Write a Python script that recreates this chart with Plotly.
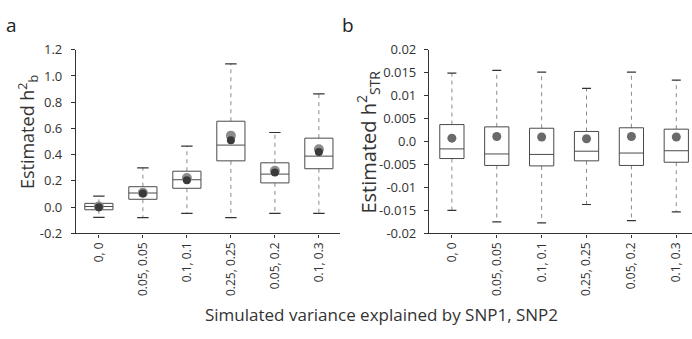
import plotly.graph_objects as go

categories = ["0, 0", "0.05, 0.05", "0.1, 0.1", "0.25, 0.25", "0.05, 0.2", "0.1, 0.3"]

# Panel a: estimated h2_b
a_lower = [-0.077, -0.080, -0.048, -0.079, -0.048, -0.048]
a_q1 = [-0.020, 0.060, 0.144, 0.353, 0.185, 0.293]
a_median = [0.005, 0.108, 0.209, 0.473, 0.252, 0.389]
a_q3 = [0.029, 0.156, 0.274, 0.655, 0.338, 0.526]
a_upper = [0.084, 0.300, 0.466, 1.092, 0.569, 0.864]
a_mean_est = [0.005, 0.110, 0.222, 0.545, 0.278, 0.442]
a_mean_true = [0.000, 0.105, 0.205, 0.510, 0.265, 0.420]

# Panel b: estimated h2_STR
b_lower = [-0.0150, -0.0175, -0.0177, -0.0137, -0.0172, -0.0153]
b_q1 = [-0.0037, -0.0052, -0.0053, -0.0042, -0.0052, -0.0045]
b_median = [-0.0016, -0.0027, -0.0028, -0.0021, -0.0025, -0.0020]
b_q3 = [0.0037, 0.0032, 0.0029, 0.0022, 0.0030, 0.0027]
b_upper = [0.0149, 0.0155, 0.0151, 0.0116, 0.0151, 0.0134]
b_mean = [0.00075, 0.0011, 0.0010, 0.0006, 0.0011, 0.0010]

a_ticks = [-0.2, 0.0, 0.2, 0.4, 0.6, 0.8, 1.0, 1.2]
a_ticktext = ["-0.2", "0.0", "0.2", "0.4", "0.6", "0.8", "1.0", "1.2"]
b_ticks = [-0.02, -0.015, -0.01, -0.005, 0.0, 0.005, 0.01, 0.015, 0.02]
b_ticktext = ["-0.02", "-0.015", "-0.01", "-0.005", "0.0", "0.005", "0.01", "0.015", "0.02"]

FONT = "Open Sans"
BOXC = "#4a4a4a"
WHC = "#8a8a8a"

fig = go.Figure()


def add_boxes(xa, ya, lower, q1, med, q3, upper, hw, cw):
    bx, by, wx, wy, cx, cy = [], [], [], [], [], []
    for i in range(len(categories)):
        bx += [i - hw, i + hw, i + hw, i - hw, i - hw, None, i - hw, i + hw, None]
        by += [q1[i], q1[i], q3[i], q3[i], q1[i], None, med[i], med[i], None]
        wx += [i, i, None, i, i, None]
        wy += [q3[i], upper[i], None, q1[i], lower[i], None]
        cx += [i - cw, i + cw, None, i - cw, i + cw, None]
        cy += [upper[i], upper[i], None, lower[i], lower[i], None]
    fig.add_trace(go.Scatter(x=wx, y=wy, mode="lines", xaxis=xa, yaxis=ya,
                             line=dict(color=WHC, width=1, dash="4px,4px"),
                             showlegend=False, hoverinfo="skip"))
    fig.add_trace(go.Scatter(x=cx, y=cy, mode="lines", xaxis=xa, yaxis=ya,
                             line=dict(color="#333", width=1.2),
                             showlegend=False, hoverinfo="skip"))
    fig.add_trace(go.Scatter(x=bx, y=by, mode="lines", xaxis=xa, yaxis=ya,
                             line=dict(color=BOXC, width=1),
                             showlegend=False, hoverinfo="skip"))


idx = list(range(len(categories)))

add_boxes("x", "y", a_lower, a_q1, a_median, a_q3, a_upper, 0.32, 0.13)
fig.add_trace(go.Scatter(x=idx, y=a_mean_est, mode="markers", xaxis="x", yaxis="y",
                         marker=dict(color="#8c8c8c", size=10), showlegend=False))
fig.add_trace(go.Scatter(x=idx, y=a_mean_true, mode="markers", xaxis="x", yaxis="y",
                         marker=dict(color="#3a3a3a", size=8), showlegend=False))

add_boxes("x2", "y2", b_lower, b_q1, b_median, b_q3, b_upper, 0.27, 0.1)
fig.add_trace(go.Scatter(x=idx, y=b_mean, mode="markers", xaxis="x2", yaxis="y2",
                         marker=dict(color="#6a6a6a", size=9), showlegend=False))

W, H = 692, 339
ydom = [(H - 237) / H, (H - 43) / H]

axis_common = dict(showgrid=False, zeroline=False, showline=True, linecolor="#333",
                   linewidth=1.2, ticks="outside", tickcolor="#333")
xfont = dict(family=FONT, size=12, color="#333")
yfont = dict(family=FONT, size=13, color="#333")

fig.update_layout(
    width=W, height=H,
    margin=dict(l=0, r=0, t=0, b=0),
    paper_bgcolor="white", plot_bgcolor="white",
    font=dict(family=FONT, color="#333"),
    xaxis=dict(axis_common, domain=[76 / W, 340 / W], range=[-0.52, 5.48],
               tickvals=idx, ticktext=categories, tickangle=-90, anchor="y",
               ticklen=3, tickfont=xfont),
    yaxis=dict(axis_common, domain=ydom, range=[-0.2, 1.2], tickvals=a_ticks,
               ticktext=a_ticktext, anchor="x", ticklen=4, tickfont=yfont,
               ticklabelstandoff=6),
    xaxis2=dict(axis_common, domain=[429 / W, 1.0], range=[-0.51, 5.35],
                tickvals=idx, ticktext=categories, tickangle=-90, anchor="y2",
                ticklen=3, tickfont=xfont),
    yaxis2=dict(axis_common, domain=ydom, range=[-0.02, 0.02], tickvals=b_ticks,
                ticktext=b_ticktext, anchor="x2", ticklen=4, tickfont=yfont,
                ticklabelstandoff=5),
    annotations=[
        dict(text="a", x=12 / W, y=1 - 17 / H, xref="paper", yref="paper",
             showarrow=False, xanchor="center", yanchor="middle",
             font=dict(family=FONT, size=19, color="#222")),
        dict(text="b", x=348 / W, y=1 - 17 / H, xref="paper", yref="paper",
             showarrow=False, xanchor="center", yanchor="middle",
             font=dict(family=FONT, size=19, color="#222")),
        dict(text="Estimated h<sup>2</sup><sub>b</sub>", x=28 / W, y=1 - 130 / H,
             xref="paper", yref="paper", showarrow=False, textangle=-90,
             xanchor="center", yanchor="middle",
             font=dict(family=FONT, size=18, color="#333")),
        dict(text="Estimated h<sup>2</sup><sub>STR</sub>", x=368 / W, y=1 - 140 / H,
             xref="paper", yref="paper", showarrow=False, textangle=-90,
             xanchor="center", yanchor="middle",
             font=dict(family=FONT, size=20, color="#333")),
        dict(text="Simulated variance explained by SNP1, SNP2", x=381 / W, y=1 - 323 / H,
             xref="paper", yref="paper", showarrow=False, xanchor="center",
             yanchor="middle", font=dict(family=FONT, size=17, color="#333")),
    ],
)

fig.write_html("out.html")
